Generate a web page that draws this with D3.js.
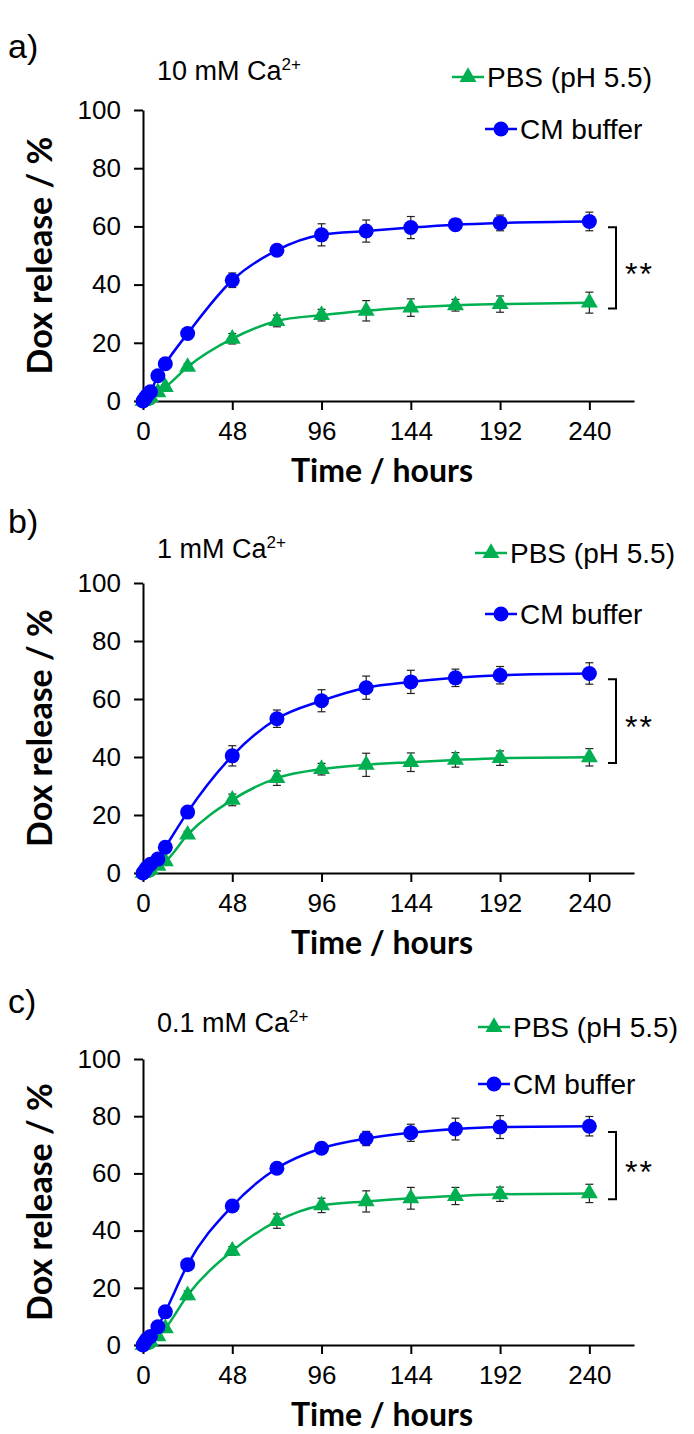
<!DOCTYPE html>
<html>
<head>
<meta charset="utf-8">
<script src="https://cdn.jsdelivr.net/npm/d3@7"></script>
<style>
  body { margin: 0; background: #fff; }
  text { font-family: "Liberation Sans", Arial, sans-serif; fill: #000; }
  .bold { font-family: Lato, "Open Sans", sans-serif; font-weight: 700; }
</style>
</head>
<body>
<div id="chart"></div>
<script>
// sampling times (hours)
const hours = [0, 1, 2, 4, 8, 12, 24, 48, 72, 96, 120, 144, 168, 192, 240];
const xTicks = [0, 48, 96, 144, 192, 240];
const yTicks = [0, 20, 40, 60, 80, 100];
const seriesNames = ['PBS (pH 5.5)', 'CM buffer'];
const concLabels = ['10 mM Ca', '1 mM Ca', '0.1 mM Ca'];
const panelLetters = ['a)', 'b)', 'c)'];

// a) 10 mM Ca2+
const cmA     = [0, 0.8, 1.8, 3.2, 8.7, 12.8, 23.2, 41.5, 51.8, 57.1, 58.4, 59.6, 60.6, 61.2, 61.7];
const cmAErr  = [0, 0.3, 0.4, 0.5, 0.8, 1.0, 1.5, 2.5, 1.8, 3.8, 3.8, 3.8, 2.0, 2.7, 3.2];
const pbsA    = [0, 0.3, 0.6, 1.3, 3.0, 4.8, 11.7, 21.4, 27.5, 29.5, 31.0, 32.1, 32.9, 33.3, 33.8];
const pbsAErr = [0, 0.2, 0.3, 0.4, 0.6, 0.8, 1.2, 1.8, 2.0, 2.0, 3.5, 3.0, 2.0, 2.8, 3.6];

// b) 1 mM Ca2+
const cmB     = [0, 0.8, 1.8, 3.0, 4.8, 8.9, 21.0, 40.4, 53.2, 59.4, 63.9, 65.9, 67.3, 68.2, 68.8];
const cmBErr  = [0, 0.3, 0.4, 0.5, 0.8, 1.0, 1.5, 3.5, 3.0, 3.8, 4.0, 4.0, 3.0, 3.0, 3.7];
const pbsB    = [0, 0.3, 0.6, 1.2, 2.5, 4.0, 13.2, 25.2, 32.7, 35.8, 37.3, 38.2, 39.0, 39.6, 39.9];
const pbsBErr = [0, 0.2, 0.3, 0.4, 0.6, 0.8, 1.2, 2.0, 2.5, 2.0, 4.0, 3.2, 2.5, 2.5, 3.0];

// c) 0.1 mM Ca2+
const cmC     = [0, 1.0, 2.0, 3.0, 6.4, 11.6, 28.1, 48.6, 61.8, 68.8, 72.2, 74.2, 75.5, 76.2, 76.5];
const cmCErr  = [0, 0.3, 0.4, 0.5, 0.8, 1.0, 1.2, 1.5, 1.5, 1.5, 2.5, 3.0, 3.8, 4.0, 3.4];
const pbsC    = [0, 0.3, 0.6, 1.2, 3.0, 5.8, 17.4, 32.9, 43.3, 48.8, 50.2, 51.3, 52.1, 52.7, 53.0];
const pbsCErr = [0, 0.2, 0.3, 0.4, 0.6, 0.8, 1.5, 1.5, 2.5, 2.5, 3.7, 3.8, 3.0, 2.5, 3.2];

const blue = '#0000ff', green = '#00b050';

const svg = d3.select('#chart').append('svg').attr('width', 694).attr('height', 1434);
const x = d3.scaleLinear().domain([0, 264]).range([143, 634]);

// layout per panel
const layout = [
  {top: 110, bottom: 401, letterY: 58, titleY: 80, pbsX: 452, pbsY: 77, cmX: 485, cmY: 129},
  {top: 583, bottom: 873, letterY: 533, titleY: 558, pbsX: 475, pbsY: 553, cmX: 485, cmY: 614},
  {top: 1059, bottom: 1345, letterY: 1013, titleY: 1032, pbsX: 478, pbsY: 1027, cmX: 478, cmY: 1084}
];
const data = [
  {cm: cmA, cmErr: cmAErr, pbs: pbsA, pbsErr: pbsAErr},
  {cm: cmB, cmErr: cmBErr, pbs: pbsB, pbsErr: pbsBErr},
  {cm: cmC, cmErr: cmCErr, pbs: pbsC, pbsErr: pbsCErr}
];

const triangle = d3.symbol().type(d3.symbolTriangle).size(125);

function drawMarker(g, kind, cx, cy) {
  if (kind === 'pbs') {
    g.append('path').attr('d', triangle).attr('transform', `translate(${cx},${cy})`).attr('fill', green);
  } else {
    g.append('circle').attr('cx', cx).attr('cy', cy).attr('r', 7.5).attr('fill', blue);
  }
}

function drawSeries(g, y, vals, errs, color, kind) {
  const pts = hours.map((t, i) => ({t, v: vals[i], e: errs[i]}));
  g.append('path').datum(pts)
    .attr('d', d3.line().x(d => x(d.t)).y(d => y(d.v)).curve(d3.curveMonotoneX))
    .attr('fill', 'none').attr('stroke', color).attr('stroke-width', 2.5);
  const eb = g.append('g').attr('stroke', '#222').attr('stroke-width', 1.2);
  pts.filter(d => d.e > 0).forEach(d => {
    const cx = x(d.t);
    eb.append('line').attr('x1', cx).attr('x2', cx).attr('y1', y(d.v - d.e)).attr('y2', y(d.v + d.e));
    eb.append('line').attr('x1', cx - 4).attr('x2', cx + 4).attr('y1', y(d.v - d.e)).attr('y2', y(d.v - d.e));
    eb.append('line').attr('x1', cx - 4).attr('x2', cx + 4).attr('y1', y(d.v + d.e)).attr('y2', y(d.v + d.e));
  });
  pts.forEach(d => drawMarker(g, kind, x(d.t), y(d.v)));
}

function styleAxis(sel) {
  sel.select('.domain').attr('stroke', '#000').attr('stroke-width', 2);
  sel.selectAll('.tick line').attr('stroke', '#000').attr('stroke-width', 2);
  sel.selectAll('.tick text').attr('fill', '#000').style('font-size', '26px');
}

function drawPanel(i) {
  const L = layout[i], D = data[i];
  const g = svg.append('g');
  const y = d3.scaleLinear().domain([0, 100]).range([L.bottom, L.top]);

  g.append('g').attr('transform', `translate(${x(0)},0)`)
    .call(d3.axisLeft(y).tickValues(yTicks).tickSize(9).tickSizeOuter(0).tickPadding(13))
    .call(styleAxis);
  g.append('g').attr('transform', `translate(0,${L.bottom})`)
    .call(d3.axisBottom(x).tickValues(xTicks).tickSize(9).tickSizeOuter(0).tickPadding(12))
    .call(styleAxis);

  g.append('text').attr('class', 'bold').attr('x', 382).attr('y', L.bottom + 81)
    .attr('text-anchor', 'middle').style('font-size', '32px').text('Time / hours');
  g.append('text').attr('class', 'bold')
    .attr('transform', `translate(52,${(L.top + L.bottom) / 2}) rotate(-90)`)
    .attr('text-anchor', 'middle').style('font-size', '34px').text('Dox release / %');

  drawSeries(g, y, D.pbs, D.pbsErr, green, 'pbs');
  drawSeries(g, y, D.cm, D.cmErr, blue, 'cm');

  // significance bracket
  const bx = 616, y1 = y(D.cm[D.cm.length - 1] - 2), y2 = y(D.pbs[D.pbs.length - 1] - 2);
  g.append('path').attr('d', `M${bx - 8},${y1}H${bx}V${y2}H${bx - 8}`)
    .attr('fill', 'none').attr('stroke', '#000').attr('stroke-width', 2);
  g.append('text').attr('x', bx + 9).attr('y', (y1 + y2) / 2 + 17)
    .style('font-size', '32px').style('letter-spacing', '2px').text('**');

  // panel letter and title
  g.append('text').attr('x', 8).attr('y', L.letterY).style('font-size', '34px').text(panelLetters[i]);
  const t = g.append('text').attr('x', 157).attr('y', L.titleY).style('font-size', '27px');
  t.append('tspan').text(concLabels[i]);
  t.append('tspan').attr('dy', -10).style('font-size', '17px').text('2+');

  // legend
  [['pbs', L.pbsX, L.pbsY, green, seriesNames[0]], ['cm', L.cmX, L.cmY, blue, seriesNames[1]]].forEach(([kind, lx, ly, c, name]) => {
    g.append('line').attr('x1', lx).attr('x2', lx + 32).attr('y1', ly).attr('y2', ly).attr('stroke', c).attr('stroke-width', 2.5);
    drawMarker(g, kind, lx + 16, ly);
    g.append('text').attr('x', lx + 35).attr('y', ly + 10).style('font-size', '28px').text(name);
  });
}

[0, 1, 2].forEach(drawPanel);
</script>
</body>
</html>
